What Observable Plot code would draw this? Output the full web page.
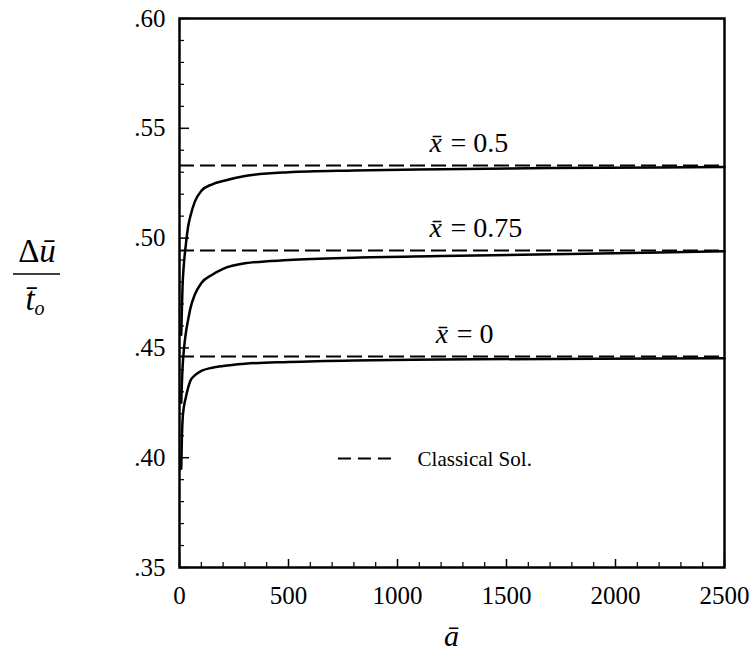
<!DOCTYPE html>
<html>
<head>
<meta charset="utf-8">
<script src="https://cdn.jsdelivr.net/npm/d3@7"></script>
<script src="https://cdn.jsdelivr.net/npm/@observablehq/plot@0.6"></script>
<style>
  html, body { margin: 0; padding: 0; background: #fff; }
  #chart { width: 753px; height: 651px; }
  #chart svg, #chart svg text { font-family: "Liberation Serif", "Times New Roman", serif; }
</style>
</head>
<body>
<div id="chart"></div>
<script>
// ---- data ----
const aVals = [8, 11, 14, 20, 28, 40, 50, 70, 100, 150, 200, 300, 500, 800, 1200, 1700, 2200, 2500];
const curveX05  = [0.456, 0.468, 0.478, 0.488, 0.496, 0.5055, 0.510, 0.5165, 0.5215, 0.5245, 0.526, 0.5283, 0.5300, 0.5308, 0.5314, 0.5319, 0.5322, 0.5324];
const curveX075 = [0.425, 0.434, 0.441, 0.449, 0.456, 0.463, 0.468, 0.4742, 0.4795, 0.4833, 0.4860, 0.4885, 0.4900, 0.4911, 0.4918, 0.4926, 0.4934, 0.4940];
const curveX0   = [0.395, 0.409, 0.417, 0.423, 0.427, 0.432, 0.4350, 0.4375, 0.4395, 0.4410, 0.4418, 0.4428, 0.4436, 0.4443, 0.4447, 0.4450, 0.4452, 0.4453];
const classical = [0.5331, 0.4944, 0.4461];
const seriesValues = ["= 0.5", "= 0.75", "= 0"];
const xTicks = [0, 500, 1000, 1500, 2000, 2500];
const xMinor = [100, 200, 300, 400, 600, 700, 800, 900, 1100, 1200, 1300, 1400, 1600, 1700, 1800, 1900, 2100, 2200, 2300, 2400];
const yTicks = [0.35, 0.40, 0.45, 0.50, 0.55, 0.60];
const yMinor = [0.36, 0.37, 0.38, 0.39, 0.41, 0.42, 0.43, 0.44, 0.46, 0.47, 0.48, 0.49, 0.51, 0.52, 0.53, 0.54, 0.56, 0.57, 0.58, 0.59];
const legendLabel = "Classical Sol.";

// ---- build tables ----
const curves = [];
[[curveX05, 0], [curveX075, 1], [curveX0, 2]].forEach(([vals, s]) => {
  vals.forEach((v, i) => curves.push({a: aVals[i], v, s}));
});
// annotation placement (data coordinates)
const labelPos = [
  {a: 1147, v: 0.5392},
  {a: 1147, v: 0.5005},
  {a: 1175, v: 0.4522}
];
const labels = labelPos.map((p, i) => ({...p, value: seriesValues[i]}));
const legendLine = [{a1: 729, a2: 977, v: 0.3996}];
const legendText = [{a: 1092, v: 0.3996, t: legendLabel}];

const FONT = "Liberation Serif";
const W = 753, H = 651;
const mL = 179, mR = 29, mT = 18, mB = 84;
const fw = W - mL - mR, fh = H - mT - mB;

const chart = Plot.plot({
  width: W, height: H,
  marginLeft: mL, marginRight: mR, marginTop: mT, marginBottom: mB,
  style: {fontFamily: FONT, fontSize: "25px", background: "white", color: "black"},
  x: {domain: [0, 2500]},
  y: {domain: [0.35, 0.60]},
  marks: [
    Plot.ruleY(classical, {y: d => d, stroke: "black", strokeWidth: 2, strokeDasharray: "15,6"}),
    Plot.line(curves, {x: "a", y: "v", z: "s", stroke: "black", strokeWidth: 2.5, curve: "monotone-x"}),
    Plot.text(labels, {x: "a", y: "v", text: () => "x\u0304", fontFamily: FONT, fontStyle: "italic", textAnchor: "start", lineAnchor: "bottom", fontSize: 28}),
    Plot.text(labels, {x: "a", y: "v", text: "value", fontFamily: FONT, textAnchor: "start", lineAnchor: "bottom", fontSize: 28, dx: 21}),
    Plot.ruleY(legendLine, {x1: "a1", x2: "a2", y: "v", stroke: "black", strokeWidth: 2, strokeDasharray: "13,7"}),
    Plot.text(legendText, {x: "a", y: "v", text: "t", fontFamily: FONT, textAnchor: "start", lineAnchor: "middle", fontSize: 21, dy: 1}),
    Plot.tickY(yTicks, {y: d => d, stroke: "black", strokeWidth: 1.5, insetRight: fw - 10}),
    Plot.tickY(yMinor, {y: d => d, stroke: "black", strokeWidth: 1.2, insetRight: fw - 5}),
    Plot.tickX(xTicks, {x: d => d, stroke: "black", strokeWidth: 1.5, insetTop: fh - 8}),
    Plot.tickX(xMinor, {x: d => d, stroke: "black", strokeWidth: 1.2, insetTop: fh - 5}),
    Plot.axisX({ticks: xTicks, tickSize: 0, tickPadding: 19, fontFamily: FONT, fontSize: 25, tickFormat: d => String(d), label: null}),
    Plot.axisY({ticks: yTicks, tickSize: 0, tickPadding: 14, fontFamily: FONT, fontSize: 25, tickFormat: d => d3.format(".2f")(d).replace(/^0/, ""), label: null}),
    Plot.frame({stroke: "black", strokeWidth: 2.5})
  ]
});
document.getElementById("chart").appendChild(chart);

// ---- axis titles ----
const svg = d3.select(chart);
const g = svg.append("g").attr("font-family", FONT).attr("fill", "black");
const num = g.append("text").attr("x", 37).attr("y", 262).attr("text-anchor", "middle").attr("font-size", 33);
num.append("tspan").text("\u0394");
num.append("tspan").attr("font-style", "italic").text("u\u0304");
g.append("line").attr("x1", 13).attr("x2", 60).attr("y1", 274).attr("y2", 274).attr("stroke", "black").attr("stroke-width", 1.5);
const den = g.append("text").attr("x", 35).attr("y", 310).attr("text-anchor", "middle").attr("font-size", 33);
den.append("tspan").attr("font-style", "italic").text("t\u0304");
den.append("tspan").attr("font-style", "italic").attr("font-size", 20).attr("dy", 5).text("o");
g.append("text").attr("x", (mL + W - mR) / 2).attr("y", 646).attr("text-anchor", "middle").attr("font-size", 30).attr("font-style", "italic").text("a\u0304");
</script>
</body>
</html>
